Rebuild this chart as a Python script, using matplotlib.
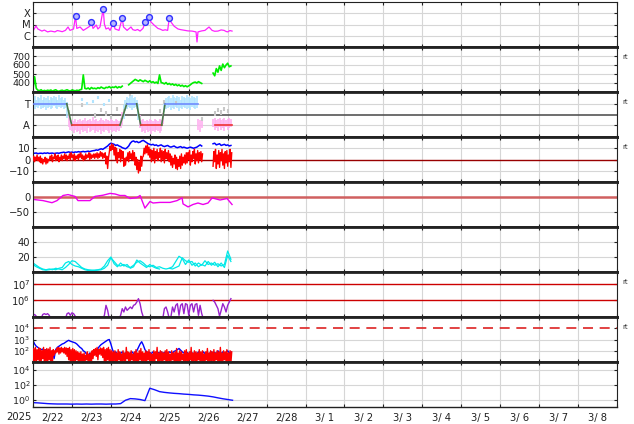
import datetime
import numpy as np
import matplotlib
matplotlib.use("Agg")
import matplotlib.pyplot as plt
from matplotlib.ticker import FixedLocator, FixedFormatter, NullFormatter, NullLocator

nan = np.nan

# time axis: hours since 2025-02-22 00:00, 15 days shown
start_day = datetime.date(2025, 2, 22)
n_days = 15

# --- panel 1: x-ray flux ---
xray_hours = [0, 1.8, 3, 5.5, 7, 9, 11, 13.5, 15, 16.6, 18, 20, 21.6, 22.8, 25, 26.2, 27, 29, 31,
              33, 35, 36, 37, 39, 40, 41.3, 43.3, 44, 45, 46.5, 47.5, 49.5, 50.6, 52, 53, 55, 55.8,
              58, 60.4, 61.5, 63, 64.5, 66, 67.8, 69.2, 70, 71.3, 72.7, 74.6, 77, 78.5, 80, 81.5,
              83, 84, 85, 87, 89.4, 91, 93.7, 95.5, 98, 100.5, 101.1, 101.7, 104, 106, 108.5,
              110.4, 112, 114, 116, 117.8, 119, 120, 121.4, 122.7]
xray_flux = [2.6e-6, 7.4e-6, 4e-6, 2.6e-6, 3.2e-6, 2.2e-6, 2.6e-6, 2.2e-6, 2.9e-6, 2.6e-6, 2.3e-6,
             3e-6, 6e-6, 3e-6, 4e-6, 5.4e-5, 4.5e-6, 6e-6, 3e-6, 4.5e-6, 7e-6, 1.6e-5, 4.5e-6,
             9e-6, 4e-6, 6e-6, 2.4e-4, 1.1e-5, 4e-6, 5e-6, 3e-6, 1.3e-5, 4e-6, 3.4e-6, 3e-6,
             3.6e-5, 6e-6, 3e-6, 6e-6, 3.5e-6, 3e-6, 3.6e-6, 2.6e-6, 4.5e-6, 1.6e-5, 2.5e-5,
             4.4e-5, 1.7e-5, 9e-6, 4.5e-6, 3.8e-6, 3e-6, 3.4e-6, 3e-6, 3.6e-5, 1.7e-5, 7e-6, 4e-6,
             3.5e-6, 3e-6, 2.7e-6, 2.6e-6, 2.2e-6, 2.8e-7, 2.2e-6, 2.7e-6, 3e-6, 6e-6, 3e-6,
             2.5e-6, 2.6e-6, 3.3e-6, 3e-6, 2.4e-6, 2.2e-6, 2.9e-6, 2.6e-6]
flare_hours = [26.2, 36, 43.3, 49.5, 55, 69.2, 71.3, 84]
flare_flux = [5.4e-5, 1.6e-5, 2.4e-4, 1.3e-5, 3.6e-5, 1.6e-5, 4.4e-5, 3.6e-5]

# --- panel 2: solar wind speed (hourly) ---
wind_speed = [330, 470, 340, 320, 315, 325, 310, 318, 312, 320,
              315, 322, 310, 318, 325, 312, 308, 316, 320, 312,
              318, 325, 315, 310, 322, 318, 312, 320, 315, 325,
              330, 490, 340, 335, 345, 330, 350, 338, 342, 335,
              348, 340, 355, 345, 338, 352, 348, 360, 345, 355,
              350, 362, 345, 358, 350, 365, nan, nan, nan, 380,
              395, 410, 425, 440, 430, 420, 435, 425, 415, 430,
              420, 410, 425, 405, 415, 400, 410, 395, 490, 405,
              400, 390, 405, 385, 395, 380, 390, 375, 385, 370,
              380, 365, 375, 360, 370, 358, 368, 380, 395, 405,
              410, 400, 415, 405, 395, nan, nan, nan, nan, nan,
              nan, 510, 480, 560, 520, 590, 540, 610, 570, 600,
              620, 580, 590]

# --- panel 3: IMF sector (+1 toward, -1 away), hourly spread ---
imf_lo = ([0.6, 0.5, 0.7, 0.6, 0.8, 0.5, 0.6, 0.7, 0.4, 0.6, 0.7, 0.5, 0.6, 0.8, 0.6, 0.5, 0.7, 0.6, 0.7, 0.5, 0.6]
          + [-0.3, -1.2, -1.4]
          + [-1.5, -1.7, -1.4, -1.6, -1.5, -1.8, -1.4, -1.6, -1.5, -1.7, -1.3, -1.6, -1.5, -1.4, -1.7,
             -1.5, -1.6, -1.4, -1.8, -1.5, -1.6, -1.4, -1.5, -1.7, -1.4, -1.6, -1.5, -1.6, -1.4, -1.5]
          + [-1.3, -1.0, -0.4, 0.3]
          + [0.5, 0.7, 0.6, 0.4, 0.6, 0.7, 0.5]
          + [-0.5, -1.3]
          + [-1.6, -1.5, -1.7, -1.4, -1.6, -1.5, -1.8, -1.5, -1.6, -1.4, -1.5, -1.7, -1.5]
          + [-0.9, 0.2]
          + [0.5, 0.6, 0.7, 0.4, 0.6, 0.5, 0.7, 0.6, 0.3, 0.6, 0.5, 0.7, 0.6, 0.5, 0.6, 0.4, 0.7, 0.6, 0.5, 0.6]
          + [-1.4, -1.6, -1.3]
          + [nan] * 6
          + [-1.2, -1.4, -1.3, -1.5, -1.2, -1.4, -1.3, -1.5, -1.2, -1.4, -1.3, -1.2])
imf_hi = ([1.5, 1.7, 1.4, 1.6, 1.5, 1.8, 1.4, 1.6, 1.5, 1.7, 1.4, 1.6, 1.5, 1.7, 1.6, 1.4, 1.8, 1.5, 1.6, 1.4, 1.5]
          + [1.2, 0.3, -0.3]
          + [-0.5, -0.6, -0.4, -0.7, -0.5, -0.4, -0.6, -0.5, -0.3, -0.6, -0.5, -0.4, -0.6, -0.2, -0.5,
             -0.4, -0.6, -0.5, -0.3, -0.5, -0.6, -0.4, -0.5, -0.6, -0.4, -0.5, -0.6, -0.4, -0.5, -0.6]
          + [-0.3, 0.2, 0.9, 1.4]
          + [1.6, 1.5, 1.7, 1.8, 1.5, 1.6, 1.4]
          + [1.0, 0.0]
          + [-0.5, -0.4, -0.6, -0.5, -0.6, -0.4, -0.5, -0.6, -0.4, -0.5, -0.6, -0.4, -0.5]
          + [0.1, 1.4]
          + [1.5, 1.6, 1.7, 1.5, 1.8, 1.6, 1.5, 1.7, 1.6, 1.4, 1.7, 1.6, 1.5, 1.8, 1.6, 1.5, 1.7, 1.6, 1.5, 1.7]
          + [-0.4, -0.5, -0.5]
          + [nan] * 6
          + [-0.4, -0.3, -0.5, -0.4, -0.3, -0.5, -0.4, -0.3, -0.5, -0.4, -0.3, -0.4])
imf_grey_hours = [22, 30, 38, 42, 45, 48, 52, 56, 60, 66, 78, 81, 88, 104, 112, 114, 116, 118, 120]
imf_grey_vals = [0.2, 0.9, -0.1, 0.4, 0.1, -0.2, 0.5, 0.3, 1.9, -0.3, 0.3, 1.2, 1.1, -0.4, 0.1, 0.4, 0.2, 0.5, 0.3]
imf_stray_hours = [30, 33, 37, 40, 44, 47]
imf_stray_vals = [1.4, 1.0, 1.2, 1.6, 0.9, 1.3]
sector_hours = [0, 20.8, 23.9, 53.6, 57.8, 63.9, 66.4, 79.3, 81.4, 101.7, 101.7, 112.2, 122.5]
sector_pol = [1, 1, -1, -1, 1, 1, -1, -1, 1, 1, nan, -1, -1]

# --- panel 4: Bt and Bz (nT), hourly ---
bt = ([6.0, 5.5, 5.8, 5.2, 5.5, 5.6, 5.3, 5.8, 5.5, 5.9, 5.4, 5.6, 5.7, 5.3, 5.6, 5.8, 5.5, 6.0]
      + [6.2, 6.5, 6.0, 6.4, 6.8, 6.3, 6.6, 6.2, 6.7, 6.5, 7.0, 6.6, 6.9, 7.2, 6.8, 7.1, 7.4, 7.0, 7.5, 7.8]
      + [8.0, 8.5, 8.2, 9.0, 9.5, 9.0, 10.0, 11.0, 12.0]
      + [13.5, 14.5, 14.0]
      + [13.5, 12.5, 13.0, 12.0, 11.5, 10.5, 10.0]
      + [9.5, 10.5, 12.0, 14.5, 16.0]
      + [16.5, 15.5, 16.0, 15.0, 15.5, 16.5, 17.0, 16.0, 15.0, 14.0, 13.5]
      + [13.0, 13.5, 12.5, 13.0, 12.0, 12.5, 13.0, 12.0, 11.5, 12.0, 12.5, 11.5]
      + [11.0, 11.5, 12.0, 11.0, 10.5, 11.0, 11.5, 10.5, 11.0, 10.5, 10.0, 10.5, 11.0, 10.5, 10.0,
         10.5, 11.0, 12.0, 13.0, 12.0]
      + [nan] * 6
      + [14.0, 14.5, 13.0, 13.5, 14.0, 12.5, 13.0, 13.5, 12.5, 13.0, 12.0, 12.5])
bz_lo = ([-1, -2, 0, -1, -2] + [-3, -4, -2, -4, -3] + [-1, 0, -2, 1, -1, 0, -2]
         + [0, -1, 1, 0, -1, 1, 0, 2, 0, -1, 1, 0, 2, 1, -1, 0, 1, 2, 0, 1, 2]
         + [1, 2, 1, 2, 3, 1, 2] + [-4, -8] + [6, 8, 9] + [4, 0, -3, 2, -2, 1] + [-6, -5]
         + [0, -2, 1, 0, -1] + [-5, -9, -12, -10, -6] + [3, 5, 6, 4, 2]
         + [-2, 0, -3, 1, -1, 2, -2, 0, -3, 1, 0, -2] + [-5, -7, -4, -8, -9, -6, -8, -5, -3, -4]
         + [-3, 0, -5, -2, 1, -4, -1, -3, 0, -2] + [nan] * 6
         + [-6, -2, -8, -4, -7, -1, -5, -8, -3, -6, -2, -7])
bz_hi = ([3, 2, 4, 2, 3] + [1, 0, 2, 1, 0] + [3, 4, 2, 5, 3, 4, 2]
         + [4, 3, 5, 4, 3, 5, 6, 4, 5, 3, 4, 5, 6, 4, 3, 5, 4, 6, 5, 4, 5]
         + [5, 6, 5, 7, 6, 5, 6] + [3, 1] + [12, 14, 13] + [11, 10, 6, 9, 8, 7] + [1, 2]
         + [6, 7, 5, 8, 6] + [2, 0, -2, 3, 2] + [10, 12, 13, 11, 9]
         + [8, 10, 7, 9, 6, 10, 8, 7, 9, 6, 8, 5] + [3, 1, 4, 2, 0, 3, 5, 2, 4, 6]
         + [6, 8, 4, 7, 9, 5, 8, 6, 7, 5] + [nan] * 6
         + [7, 9, 4, 8, 6, 9, 5, 7, 8, 4, 9, 6])

# --- panel 5: Dst (nT) ---
dst_hours = [0, 6.2, 11.7, 14.8, 18.5, 21.6, 25.9, 27.7, 35.1, 38.2, 43.2, 47.5, 50.6, 53.6, 56.7,
             59.8, 64.1, 66, 69, 72.1, 74, 78.3, 84.5, 88.8, 91.9, 92.5, 95.6, 98.6, 101.7, 104.8,
             107.9, 110.4, 115.3, 119.6, 122.7]
dst = [-8, -12, -19, -12, 5, 8, 2, -12, -12, 2, 6, 12, 10, 5, 5, -5, -2, 5, -37, -15, -20, -18,
       -18, -12, -3, -23, -33, -25, -20, -25, -20, -3, -10, -5, -25]

# --- panel 6: plasma density (2-hourly), two sources ---
dens_a = [12, 9, 6, 4, 3, 4, 3, 5, 4, 3,
          6, 10, 15, 14, 10, 6, 4, 3, 2.5, 2,
          2.5, 3, 5, 9, 19, 14, 9, 8, 10, 7,
          6, 9, 13, 15, 12, 8, 7, 9, 6, 7,
          5, 4, 5, 4, 6, 8, 19, 15, 13, 14,
          8, 12, 9, 15, 10, 12, 9, 11, 8, 10,
          28, 17]
dens_b = [10, 7, 5, 3, 2.5, 3, 4, 3, 5, 6,
          12, 14, 10, 8, 7, 5, 3, 2, 2, 2.5,
          3, 4, 8, 15, 20, 11, 7, 12, 8, 10,
          5, 7, 16, 12, 9, 6, 10, 7, 5, 4,
          nan, nan, 5, 7, 14, 21, 18, 10, 16, 9,
          12, 7, 10, 8, 14, 9, 13, 7, 12, 6,
          22, 14]

# --- panel 7: electron flux, log10 (hourly) ---
elec_log = ([5.1, 5.15, 5.05, 4.8, 4.8, 4.9, 5.15, 5.2, 5.15, 5.2]
            + [5.1, 4.9, 4.8, 4.8, 4.8, 4.8, 4.8, 4.8, 4.8, 4.8]
            + [4.9, 5.2, 5.25, 5.1, 5.25, 5.2, 5.05, 4.9, 4.8, 4.8]
            + [4.8] * 10
            + [4.8, 4.8, 4.8, 4.9, 5.1, 5.7, 5.4, 4.9, 4.8, 4.8]
            + [4.8, 4.8, 4.8, 4.9, 5.1, 5.5, 5.3, 5.6, 5.4, 5.5]
            + [5.6, 5.5, 5.7, 5.75, 5.9, 6.1, 5.8, 5.3, 5.0, 4.8]
            + [4.8] * 10
            + [4.9, 5.5, 5.6, 5.3, 4.9, 5.0, 5.6, 5.3, 5.7, 5.8]
            + [5.1, 5.7, 5.8, 5.2, 5.8, 5.75, 5.1, 5.7, 5.8, 5.3]
            + [5.75, 5.8, 5.1, 5.7, 5.2, 4.9, nan, nan, nan, nan]
            + [nan, 6.0, 5.9, 5.7, 5.5, 5.05, 5.4, 5.8, 5.6, 5.3, 5.7, 5.9, 6.1])

# --- panel 8: proton flux, log10 (hourly) ---
prot_blue_log = ([2.9, 2.6, 2.4, 2.3, 2.2, 2.1, 2.15, 2.05, 2.1, 2.0]
                 + [1.5, 1.2, 2.0, 1.3, 2.1, 2.3, 2.4, 2.5, 2.6, 2.65]
                 + [2.75, 2.85, 2.93, 2.85, 2.8, 2.75, 2.7, 2.6, 2.45, 2.3]
                 + [2.2, 2.0, 1.9, 1.7, 1.5, 1.8, 1.4, 1.6, 1.9, 2.0]
                 + [2.2, 2.4, 2.55, 2.65, 2.75, 2.85, 2.95, 3.0, 2.6, 2.1]
                 + [1.8, 1.9, 1.7, 1.85, 1.75, 1.9, 1.7, 1.8, 1.85, 1.7]
                 + [1.8, 1.9, 1.75, 1.85, 2.0, 2.3, 2.6, 2.8, 2.5, 2.1]
                 + [1.9, 1.8, 1.85, 1.75, 1.9, 1.8, 1.7, 1.85, 1.8, 1.9]
                 + [1.75, 1.85, 1.8, 1.7, 1.9, 1.85, 1.8, 1.95, 2.0, 2.1]
                 + [2.2, 2.05, 1.9, 1.8, 1.75, 1.85, 1.7, 1.9, 1.8, 1.75]
                 + [1.85, 1.7, 1.9, 1.8, 1.65, 1.9, 1.75, 1.85, 1.7, 1.8]
                 + [1.9, 1.75, 1.85, 1.7, 2.0, 1.8, 1.75, 1.9, 1.7, 1.85]
                 + [2.0, 1.8, 1.9])
prot_red_lo = ([0.9, 1.1, 0.9, 1.2, 0.9, 1.0, 1.3, 0.9, 1.1, 0.9, 1.2, 0.9, 1.0]
               + [1.6, 1.8, 1.9, 1.7, 1.8, 1.9, 1.8, 1.7, 1.5, 1.2, 0.9]
               + [0.9, 1.1, 0.9, 1.2, 0.9, 1.0, 0.9, 1.1, 0.9, 1.2, 0.9, 1.0, 0.9]
               + [1.3, 1.6, 1.5, 1.2, 1.7, 1.6, 1.4, 1.0, 0.9, 1.2, 0.9, 1.0]
               + [0.9, 1.1, 1.0, 0.9, 1.2, 0.9, 1.0, 1.1, 0.9, 1.3, 0.9, 1.0, 1.2, 0.9, 1.1, 0.9, 1.0,
                  1.2, 0.9, 1.1, 1.0, 0.9, 1.2, 0.9, 1.1, 1.0, 0.9, 1.3, 0.9, 1.0, 1.1, 0.9, 1.2, 0.9,
                  1.0, 1.1, 0.9, 1.2, 1.0, 0.9, 1.1, 0.9, 1.0, 1.2, 0.9, 1.1, 0.9, 1.0, 1.2, 0.9, 1.0,
                  1.1, 0.9, 1.2, 0.9, 1.0, 1.1, 0.9, 1.2, 1.0, 0.9, 1.1, 1.0, 0.9, 1.2, 0.9, 1.1, 1.0,
                  0.9, 1.2, 1.0, 0.9, 1.1, 0.9])
prot_red_hi = ([2.2, 2.3, 2.1, 2.25, 2.2, 2.0, 2.3, 2.1, 2.2, 2.15, 2.3, 2.0, 2.1]
               + [2.0, 2.2, 2.3, 2.25, 2.3, 2.2, 2.3, 2.25, 2.2, 2.3, 2.1]
               + [2.2, 2.1, 2.0, 1.9, 1.8, 1.9, 1.7, 1.8, 1.6, 1.9, 1.7, 1.8, 2.0]
               + [2.1, 2.2, 2.3, 2.1, 2.25, 2.2, 2.3, 2.1, 2.2, 2.3, 2.1, 2.0]
               + [1.9, 2.0, 1.8, 2.1, 1.9, 1.7, 2.0, 1.8, 2.3, 1.9, 1.8, 2.0, 1.7, 1.9, 2.1, 1.8, 2.0,
                  2.2, 1.9, 1.8, 2.0, 1.9, 2.1, 1.8, 1.7, 2.0, 1.9, 2.3, 1.8, 2.0, 1.9, 1.8, 2.0, 2.1,
                  1.9, 1.7, 2.0, 1.8, 1.9, 2.2, 1.8, 2.0, 1.9, 1.7, 2.0, 2.1, 1.8, 1.9, 2.3, 1.8, 2.0,
                  1.9, 1.8, 2.1, 1.9, 2.0, 1.7, 1.9, 2.2, 1.8, 2.0, 1.9, 2.1, 1.8, 2.0, 1.9, 2.3, 1.8,
                  2.0, 1.9, 2.1, 1.8, 2.0, 1.9])

# --- panel 9: high-energy proton flux, log10 (3-hourly) ---
p9_log = [-0.42, -0.45, -0.5, -0.55, -0.58, -0.6, -0.6, -0.6, -0.62, -0.6, -0.62, -0.6, -0.62,
          -0.6, -0.6, -0.62, -0.6, -0.6, -0.55, -0.1, 0.12, 0.08, 0.0, -0.15, 1.5, 1.3, 1.05, 0.95,
          0.88, 0.82, 0.78, 0.72, 0.68, 0.62, 0.58, 0.52, 0.45, 0.35, 0.22, 0.1, 0.0, -0.1]


def zigzag(lo, hi):
    h = np.arange(len(lo), dtype=float)
    xs = np.column_stack([h, h + 0.5]).ravel()
    ys = np.column_stack([lo, hi]).ravel()
    return xs, ys


W, H = 634, 424
left_px, right_px, top_px, panel_px = 33, 617, 2, 45
fig = plt.figure(figsize=(W / 100, H / 100), dpi=100)
axes = []
for i in range(9):
    y0 = top_px + panel_px * (i + 1)
    axes.append(fig.add_axes([left_px / W, 1 - y0 / H, (right_px - left_px) / W, panel_px / H]))

grid_c = "#d6d6d6"
lab_size = 7.2


def style(ax, ylim, yticks, ylabels, grid_y, log=False, size=lab_size):
    if log:
        ax.set_yscale("log")
    ax.set_xlim(0, n_days * 24)
    ax.set_ylim(ylim)
    ax.set_xticks(np.arange(0, n_days * 24 + 1, 24))
    ax.xaxis.set_major_formatter(NullFormatter())
    ax.xaxis.set_minor_locator(NullLocator())
    ax.yaxis.set_major_locator(FixedLocator(yticks))
    ax.yaxis.set_major_formatter(FixedFormatter(ylabels))
    ax.yaxis.set_minor_locator(NullLocator())
    ax.grid(True, axis="x", color=grid_c, lw=0.8)
    for g in grid_y:
        ax.axhline(g, color=grid_c, lw=0.8, zorder=0.5)
    ax.set_axisbelow(True)
    ax.tick_params(axis="both", which="major", direction="in", length=2, top=True, right=True,
                   labelsize=size, pad=2, colors="#222")
    ax.spines["top"].set_linewidth(2)
    ax.spines["bottom"].set_linewidth(2)
    for s in ("left", "right"):
        ax.spines[s].set_linewidth(0.8)
    for s in ax.spines.values():
        s.set_color("#222")


# panel 1
ax = axes[0]
style(ax, (1e-7, 1e-3), [1e-4, 1e-5, 1e-6], ["X", "M", "C"], [1e-4, 1e-5, 1e-6], log=True)
ax.spines["top"].set_linewidth(0.8)
ax.plot(xray_hours, xray_flux, color="#ff22ff", lw=0.9)
ax.plot(flare_hours, flare_flux, "o", ms=4.2, mfc="#b8b8ff", mec="#3030ff", mew=1)

# panel 2
ax = axes[1]
style(ax, (300, 800), [400, 500, 600, 700], ["400", "500", "600", "700"], [400, 500, 600, 700],
      size=6.8)
ax.plot(np.arange(len(wind_speed)), wind_speed, color="#00ee00", lw=1.2)

# panel 3
ax = axes[2]
style(ax, (-2.1, 2.1), [1, -1], ["T", "A"], [1, -1])
ax.axhline(0, color="#555555", lw=1.2, zorder=1)
lo = np.array(imf_lo)
hi = np.array(imf_hi)
hrs = np.arange(len(lo))
mid = (lo + hi) / 2
cols = np.where(mid > 0, "#b0e4ff", "#ffb0f0")
ax.vlines(hrs, lo, hi, colors=cols, lw=1.2, zorder=2)
gv = np.array(imf_grey_vals)
ax.vlines(imf_grey_hours, gv - 0.2, gv + 0.2, colors="#c8c8c8", lw=1.5, zorder=2)
sv = np.array(imf_stray_vals)
ax.vlines(imf_stray_hours, sv - 0.15, sv + 0.15, colors="#b0e4ff", lw=1.5, zorder=2)
for j in range(len(sector_hours) - 1):
    p0, p1 = sector_pol[j], sector_pol[j + 1]
    if np.isnan(p0) or np.isnan(p1):
        continue
    if p0 == p1:
        c = "#6f8cff" if p0 > 0 else "#ee3333"
    else:
        c = "#4a7a4a"
    ax.plot(sector_hours[j:j + 2], sector_pol[j:j + 2], color=c, lw=1.2, zorder=3)

# panel 4
ax = axes[3]
style(ax, (-20, 20), [10, 0, -10], ["10", "0", "\u221210"], [10, -10])
ax.axhline(0, color="#990000", lw=1, zorder=1)
ax.plot(np.arange(len(bt)), bt, color="#0000ff", lw=1.1, zorder=2)
zx, zy = zigzag(bz_lo, bz_hi)
ax.plot(zx, zy, color="#ff0000", lw=1.0, zorder=3)

# panel 5
ax = axes[4]
style(ax, (-100, 50), [0, -50], ["0", "\u221250"], [-50])
ax.axhline(0, color="#d06060", lw=1.8, zorder=1)
ax.plot(dst_hours, dst, color="#ee00ee", lw=1, zorder=2)

# panel 6
ax = axes[5]
style(ax, (0, 60), [40, 20], ["40", "20"], [20, 40])
dh = np.arange(len(dens_a)) * 2
ax.plot(dh, dens_a, color="#00e8e8", lw=0.9)
ax.plot(dh, dens_b, color="#00e8e8", lw=0.9)

# panel 7
ax = axes[6]
style(ax, (1e5, 5e7), [1e7, 1e6], ["$10^7$", "$10^6$"], [], log=True)
ax.axhline(1e7, color="#cc0000", lw=1, zorder=1)
ax.axhline(1e6, color="#cc0000", lw=1, zorder=1)
ax.plot(np.arange(len(elec_log)), 10 ** np.array(elec_log), color="#9922cc", lw=1, zorder=2)

# panel 8
ax = axes[7]
style(ax, (10, 1e5), [1e4, 1e3, 1e2], ["$10^4$", "$10^3$", "$10^2$"], [1e3, 1e2], log=True,
      size=6.6)
ax.axhline(1e4, color="#dd2222", lw=1.2, dashes=(6, 4), zorder=1)
ax.plot(np.arange(len(prot_blue_log)), 10 ** np.array(prot_blue_log), color="#0000ff", lw=1, zorder=2)
rx, ry = zigzag(prot_red_lo, prot_red_hi)
ax.plot(rx, 10 ** ry, color="#ff0000", lw=1, zorder=3)

# panel 9
ax = axes[8]
style(ax, (0.1, 1e5), [1e4, 1e2, 1e0], ["$10^4$", "$10^2$", "$10^0$"], [1e4, 1e2, 1e0], log=True,
      size=6.8)
ax.spines["bottom"].set_linewidth(1)
ax.plot(np.arange(len(p9_log)) * 3, 10 ** np.array(p9_log), color="#1010ff", lw=1)
noons = np.arange(n_days) * 24 + 12
labels = []
for k in range(n_days):
    d = start_day + datetime.timedelta(days=k)
    labels.append(f"{d.month}/{d.day:>2}")
ax.set_xticks(noons, minor=True)
ax.set_xticklabels(labels, minor=True)
ax.tick_params(axis="x", which="minor", length=0, labelsize=lab_size, pad=4, colors="#222")
fig.text(19 / W, 1 - 416.5 / H, "2025", ha="center", va="center", fontsize=lab_size, color="#222")

# small "rt" marks on the right
for i in (1, 2, 3, 6, 7):
    y = top_px + panel_px * i + 9.7
    fig.text(625 / W, 1 - y / H, "rt", ha="center", va="center", fontsize=5, color="#333")

fig.savefig("out.png", dpi=100)
